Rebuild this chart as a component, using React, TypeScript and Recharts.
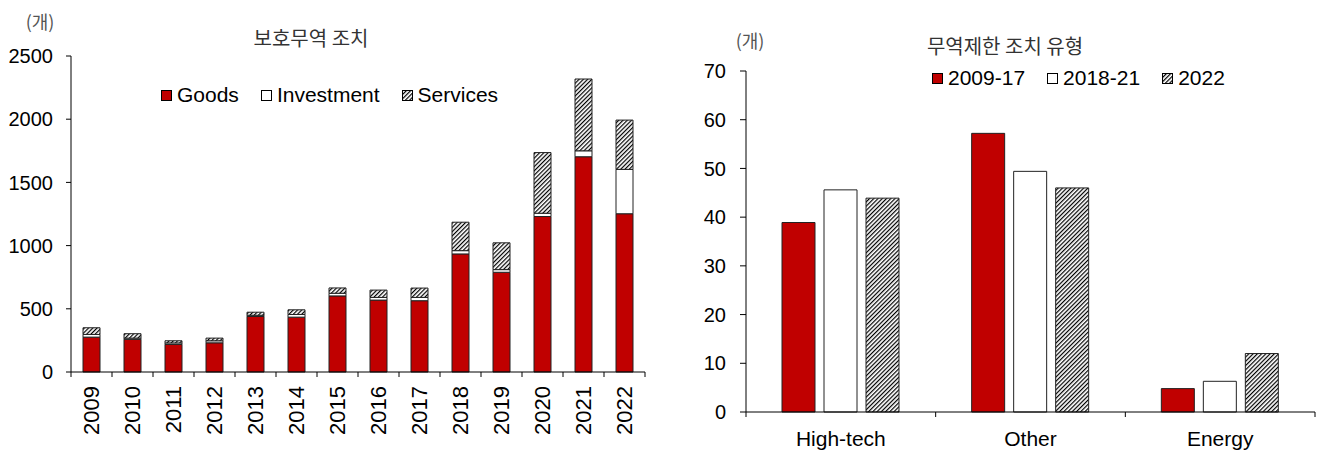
import React from 'react';
import { BarChart, Bar, XAxis, YAxis, Legend } from 'recharts';

// ---- Left chart data: 보호무역 조치 (개)
const years = ['2009', '2010', '2011', '2012', '2013', '2014', '2015', '2016', '2017', '2018', '2019', '2020', '2021', '2022'];
const goods = [276, 258, 218, 231, 439, 434, 602, 569, 564, 934, 789, 1230, 1703, 1252];
const investment = [21, 10, 12, 16, 10, 21, 21, 21, 26, 26, 21, 26, 47, 351];
const services = [53, 35, 17, 21, 24, 37, 42, 58, 74, 225, 212, 480, 568, 390];
const leftTicks = [0, 500, 1000, 1500, 2000, 2500];
const leftSeries = ['Goods', 'Investment', 'Services'];

// ---- Right chart data: 무역제한 조치 유형 (개)
const sectors = ['High-tech', 'Other', 'Energy'];
const p2009_17 = [38.9, 57.2, 4.8];
const p2018_21 = [45.6, 49.4, 6.3];
const p2022 = [43.9, 46.0, 12.0];
const rightTicks = [0, 10, 20, 30, 40, 50, 60, 70];
const rightSeries = ['2009-17', '2018-21', '2022'];

const leftData = years.map((y, i) => ({ year: y, goods: goods[i], investment: investment[i], services: services[i] }));
const rightData = sectors.map((s, i) => ({ sector: s, a: p2009_17[i], b: p2018_21[i], c: p2022[i] }));

const RED = '#C00000';
const LATIN = '"Liberation Sans", Arial, sans-serif';
const KOR = '"Noto Sans CJK KR", "Noto Sans", sans-serif';
const fills = [RED, '#FFFFFF', 'url(#hatch)'];

const YearTick = (props: any) => {
  const { x, y, payload, index, visibleTicksCount } = props;
  const half = payload && typeof payload.offset === 'number' && payload.offset > 0 ? payload.offset : 20.5;
  const last = index === (visibleTicksCount ?? years.length) - 1;
  const ay = y + 14;
  return (
    <g>
      <line x1={x - half} x2={x - half} y1={y} y2={y + 5} stroke="#000" strokeWidth={1} />
      {last && <line x1={x + half} x2={x + half} y1={y} y2={y + 5} stroke="#000" strokeWidth={1} />}
      <text x={x} y={ay} transform={`rotate(-90, ${x}, ${ay})`} textAnchor="end" dy="0.36em" fontSize={22} fontFamily={LATIN} fill="#000">
        {payload.value}
      </text>
    </g>
  );
};

const SectorTick = (props: any) => {
  const { x, y, payload, index, visibleTicksCount } = props;
  const half = payload && typeof payload.offset === 'number' && payload.offset > 0 ? payload.offset : 95;
  const last = index === (visibleTicksCount ?? sectors.length) - 1;
  return (
    <g>
      <line x1={x - half} x2={x - half} y1={y} y2={y + 5} stroke="#000" strokeWidth={1} />
      {last && <line x1={x + half} x2={x + half} y1={y} y2={y + 5} stroke="#000" strokeWidth={1} />}
      <text x={x} y={y + 34} textAnchor="middle" fontSize={21} fontFamily={LATIN} fill="#000">
        {payload.value}
      </text>
    </g>
  );
};

const LegendRow = ({ labels }: { labels: string[] }) => (
  <div style={{ display: 'flex', alignItems: 'center', fontSize: 21, fontFamily: LATIN, color: '#000', whiteSpace: 'nowrap', lineHeight: '24px' }}>
    {labels.map((label, i) => (
      <div key={label} style={{ display: 'flex', alignItems: 'center', marginLeft: i ? 22 : 0 }}>
        <svg width={11} height={11} style={{ marginRight: 5, display: 'block' }}>
          <rect x={0.5} y={0.5} width={10} height={10} fill={fills[i]} stroke="#000" strokeWidth={1} />
        </svg>
        <span>{label}</span>
      </div>
    ))}
  </div>
);

const textStyle = (left: number, top: number, size: number, color: string): React.CSSProperties => ({
  position: 'absolute',
  left,
  top,
  transform: 'translate(-50%, -50%)',
  fontFamily: KOR,
  fontSize: size,
  color,
  lineHeight: 1,
  whiteSpace: 'nowrap',
});

export default function App() {
  return (
    <div style={{ position: 'absolute', left: 0, top: 0, width: 1319, height: 452, background: '#fff', overflow: 'hidden' }}>
      <svg width={0} height={0} style={{ position: 'absolute' }}>
        <defs>
          <pattern id="hatch" patternUnits="userSpaceOnUse" width={3} height={3} patternTransform="rotate(45)">
            <rect width={3} height={3} fill="#fff" />
            <line x1={0} y1={0} x2={0} y2={3} stroke="#000" strokeWidth={2.4} />
          </pattern>
        </defs>
      </svg>

      {/* Left chart */}
      <div style={{ position: 'absolute', left: 0, top: 0 }}>
        <BarChart width={660} height={452} data={leftData} margin={{ top: 56, right: 15, left: 0, bottom: 0 }} barSize={17}>
          <XAxis dataKey="year" height={80} axisLine={{ stroke: '#000', strokeWidth: 1 }} tickLine={false} tickSize={0} tickMargin={0} tick={<YearTick />} interval={0} />
          <YAxis width={71} domain={[0, 2500]} ticks={leftTicks} interval={0} axisLine={{ stroke: '#000', strokeWidth: 1 }} tickLine={{ stroke: '#000' }} tickSize={5} tickMargin={13} tick={{ fontSize: 20, fontFamily: LATIN, fill: '#000' }} />
          <Legend verticalAlign="middle" align="center" layout="horizontal" wrapperStyle={{ left: 161, top: 83, width: 'auto' }} content={() => <LegendRow labels={leftSeries} />} />
          <Bar dataKey="goods" name="Goods" stackId="s" fill={fills[0]} stroke="#222" strokeWidth={1} isAnimationActive={false} />
          <Bar dataKey="investment" name="Investment" stackId="s" fill={fills[1]} stroke="#222" strokeWidth={1} isAnimationActive={false} />
          <Bar dataKey="services" name="Services" stackId="s" fill={fills[2]} stroke="#222" strokeWidth={1} isAnimationActive={false} />
        </BarChart>
        <div style={textStyle(40, 21, 18, '#555')}>(개)</div>
        <div style={textStyle(311, 38, 20, '#333')}>보호무역 조치</div>
      </div>

      {/* Right chart */}
      <div style={{ position: 'absolute', left: 660, top: 0 }}>
        <BarChart width={659} height={452} data={rightData} margin={{ top: 71, right: 4, left: 0, bottom: 0 }} barSize={33} barGap={9}>
          <XAxis dataKey="sector" height={40} axisLine={{ stroke: '#000', strokeWidth: 1 }} tickLine={false} tickSize={0} tickMargin={0} tick={<SectorTick />} interval={0} />
          <YAxis width={86} domain={[0, 70]} ticks={rightTicks} interval={0} axisLine={{ stroke: '#000', strokeWidth: 1 }} tickLine={{ stroke: '#000' }} tickSize={6} tickMargin={14} tick={{ fontSize: 20, fontFamily: LATIN, fill: '#000' }} />
          <Legend verticalAlign="middle" align="center" layout="horizontal" wrapperStyle={{ left: 272, top: 66, width: 'auto' }} content={() => <LegendRow labels={rightSeries} />} />
          <Bar dataKey="a" name="2009-17" fill={fills[0]} stroke="#222" strokeWidth={1} isAnimationActive={false} />
          <Bar dataKey="b" name="2018-21" fill={fills[1]} stroke="#222" strokeWidth={1} isAnimationActive={false} />
          <Bar dataKey="c" name="2022" fill={fills[2]} stroke="#222" strokeWidth={1} isAnimationActive={false} />
        </BarChart>
        <div style={textStyle(90, 40, 18, '#555')}>(개)</div>
        <div style={textStyle(345, 46, 20, '#333')}>무역제한 조치 유형</div>
      </div>
    </div>
  );
}
